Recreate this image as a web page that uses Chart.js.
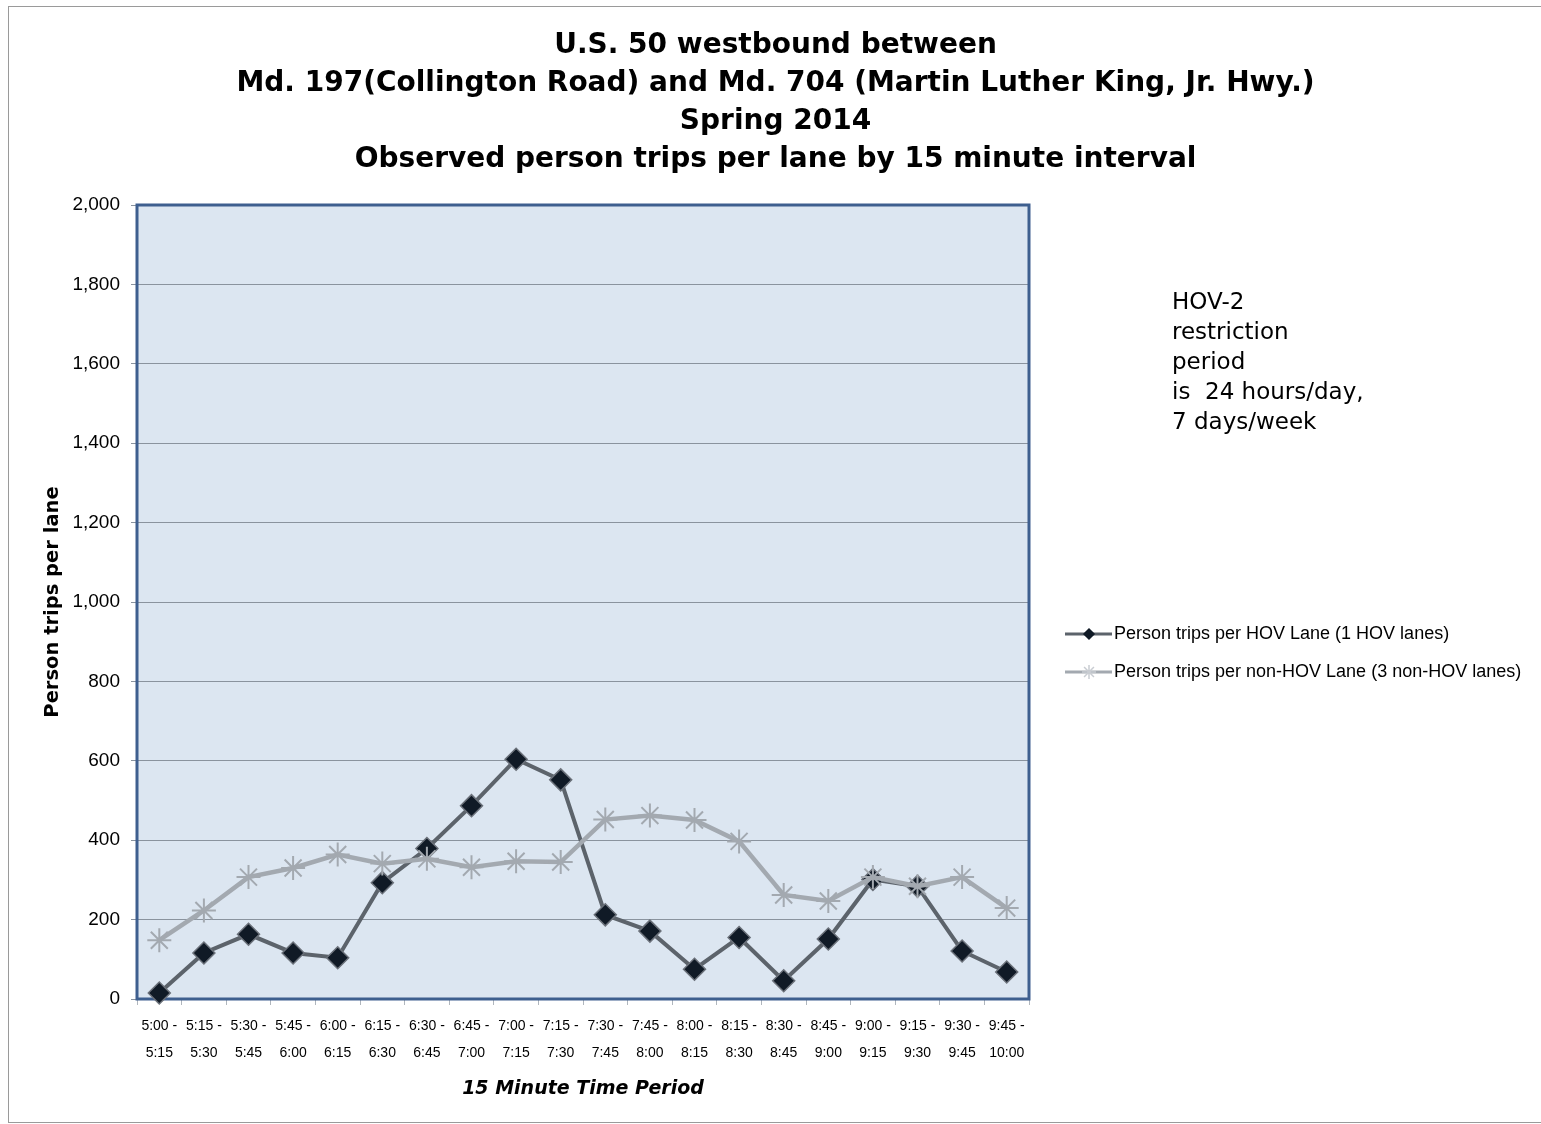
<!DOCTYPE html>
<html>
<head>
<meta charset="utf-8">
<script src="https://cdn.jsdelivr.net/npm/chart.js@4/dist/chart.umd.min.js"></script>
<style>
  body { margin: 0; background: #fff; }
  #wrap { width: 1541px; height: 1124px; position: relative; }
</style>
</head>
<body>
<div id="wrap"><canvas id="hovChart"></canvas></div>
<script>
// 15 minute periods, two-line labels
const periods = [
  ['5:00 -', '5:15'], ['5:15 -', '5:30'], ['5:30 -', '5:45'], ['5:45 -', '6:00'],
  ['6:00 -', '6:15'], ['6:15 -', '6:30'], ['6:30 -', '6:45'], ['6:45 -', '7:00'],
  ['7:00 -', '7:15'], ['7:15 -', '7:30'], ['7:30 -', '7:45'], ['7:45 -', '8:00'],
  ['8:00 -', '8:15'], ['8:15 -', '8:30'], ['8:30 -', '8:45'], ['8:45 -', '9:00'],
  ['9:00 -', '9:15'], ['9:15 -', '9:30'], ['9:30 -', '9:45'], ['9:45 -', '10:00']
];

const hovTrips = [15, 116, 163, 116, 104, 293, 379, 487, 604, 552,
                  212, 171, 75, 155, 46, 151, 301, 284, 121, 68];
const nonHovTrips = [148, 223, 307, 330, 364, 341, 353, 332, 347, 345,
                     452, 462, 451, 397, 262, 247, 307, 284, 307, 229];

const titleLines = [
  'U.S. 50 westbound between',
  'Md. 197(Collington Road) and Md. 704 (Martin Luther King, Jr. Hwy.)',
  'Spring 2014',
  'Observed person trips per lane by 15 minute interval'
];
const noteLines = ['HOV-2', 'restriction', 'period', 'is  24 hours/day,', '7 days/week'];
const hovLabel = 'Person trips per HOV Lane (1 HOV lanes)';
const nonHovLabel = 'Person trips per non-HOV Lane (3 non-HOV lanes)';

const hovLine = '#5c636b', hovFill = '#101a26';
const nonHovLine = '#a3a9b0';

// plot background, frame and page border
const plotFrame = {
  id: 'plotFrame',
  beforeDraw(chart) {
    const {ctx, chartArea: a} = chart;
    ctx.save();
    ctx.strokeStyle = '#9a9a9a';
    ctx.lineWidth = 1;
    ctx.strokeRect(8.5, 6.5, 1545, 1116);
    ctx.fillStyle = '#dce6f1';
    ctx.fillRect(a.left, a.top, a.right - a.left, a.bottom - a.top);
    ctx.restore();
  },
  beforeDatasetsDraw(chart) {
    const {ctx, chartArea: a} = chart;
    ctx.save();
    ctx.strokeStyle = '#3e5f8f';
    ctx.lineWidth = 3;
    ctx.strokeRect(a.left, a.top, a.right - a.left, a.bottom - a.top);
    ctx.restore();
  }
};

// legend + note on the right
const sideText = {
  id: 'sideText',
  afterDraw(chart) {
    const ctx = chart.ctx;
    ctx.save();
    ctx.textBaseline = 'middle';
    ctx.textAlign = 'left';

    const items = [
      {y: 634, color: hovLine, label: hovLabel, style: 'rectRot', r: 5, fill: hovFill, stroke: hovFill},
      {y: 672, color: nonHovLine, label: nonHovLabel, style: 'star', r: 7, fill: '#c9cdd2', stroke: '#c9cdd2'}
    ];
    items.forEach(it => {
      ctx.strokeStyle = it.color;
      ctx.lineWidth = 3;
      ctx.beginPath();
      ctx.moveTo(1065, it.y);
      ctx.lineTo(1112, it.y);
      ctx.stroke();
      ctx.fillStyle = it.fill;
      ctx.strokeStyle = it.stroke;
      ctx.lineWidth = 1.5;
      Chart.helpers.drawPoint(ctx, {pointStyle: it.style, radius: it.r, rotation: 0, borderWidth: 1.5}, 1089, it.y);
      ctx.fillStyle = '#000';
      ctx.font = '18px "Liberation Sans", sans-serif';
      ctx.fillText(it.label, 1114, it.y);
    });

    ctx.font = '23px "DejaVu Sans", sans-serif';
    ctx.fillStyle = '#000';
    noteLines.forEach((t, i) => ctx.fillText(t, 1172, 303 + i * 30));
    ctx.restore();
  }
};

const ctx = document.getElementById('hovChart');
const chart = new Chart(ctx, {
  type: 'line',
  data: {
    labels: periods,
    datasets: [{
      label: hovLabel,
      data: hovTrips,
      borderColor: hovLine,
      borderWidth: 4,
      pointStyle: 'rectRot',
      pointRadius: 11,
      pointBackgroundColor: hovFill,
      pointBorderColor: '#6b717a',
      pointBorderWidth: 1.5,
      tension: 0,
      clip: false,
      order: 2
    }, {
      label: nonHovLabel,
      data: nonHovTrips,
      borderColor: nonHovLine,
      borderWidth: 4.5,
      pointStyle: 'star',
      pointRadius: 12,
      pointBackgroundColor: nonHovLine,
      pointBorderColor: nonHovLine,
      pointBorderWidth: 2,
      tension: 0,
      clip: false,
      order: 1
    }]
  },
  options: {
    responsive: true,
    maintainAspectRatio: false,
    animation: false,
    layout: { padding: { left: 10, right: 0, top: 0, bottom: 0 } },
    plugins: {
      legend: { display: false },
      tooltip: { enabled: false },
      title: {
        display: true,
        text: titleLines,
        color: '#000',
        font: { family: '"DejaVu Sans", sans-serif', size: 28, weight: 'bold', lineHeight: 38 / 28 },
        padding: { top: 27, bottom: 26 }
      }
    },
    scales: {
      x: {
        offset: true,
        grid: { offset: true, drawOnChartArea: false, color: '#b0b6bd', tickLength: 6 },
        border: { display: false },
        ticks: {
          color: '#000',
          padding: 8,
          maxRotation: 0,
          autoSkip: false,
          font: { family: '"Liberation Sans", sans-serif', size: 14, lineHeight: 27 / 14 }
        },
        title: {
          display: true,
          text: '15 Minute Time Period',
          color: '#000',
          font: { family: '"DejaVu Sans", sans-serif', size: 19, weight: 'bold', style: 'italic', lineHeight: 1.2 },
          padding: { top: 0, bottom: 24 }
        },
        afterFit(scale) { scale.height = 125; }
      },
      y: {
        min: 0,
        max: 2000,
        grid: { color: '#8a939e', lineWidth: 1, tickLength: 6 },
        border: { display: false },
        ticks: {
          stepSize: 200,
          color: '#000',
          padding: 11,
          font: { family: '"Liberation Sans", sans-serif', size: 19 }
        },
        title: {
          display: true,
          text: 'Person trips per lane',
          color: '#000',
          font: { family: '"DejaVu Sans", sans-serif', size: 19.5, weight: 'bold', lineHeight: 1.2 },
          padding: { top: 31, bottom: 0 }
        },
        afterFit(scale) { scale.width = 127; }
      },
      // empty right-hand box that keeps room for the legend and note
      side: {
        position: 'right',
        display: true,
        grid: { display: false },
        border: { display: false },
        ticks: { display: false },
        afterFit(scale) { scale.width = 512; }
      }
    }
  },
  plugins: [plotFrame, sideText]
});
</script>
</body>
</html>
